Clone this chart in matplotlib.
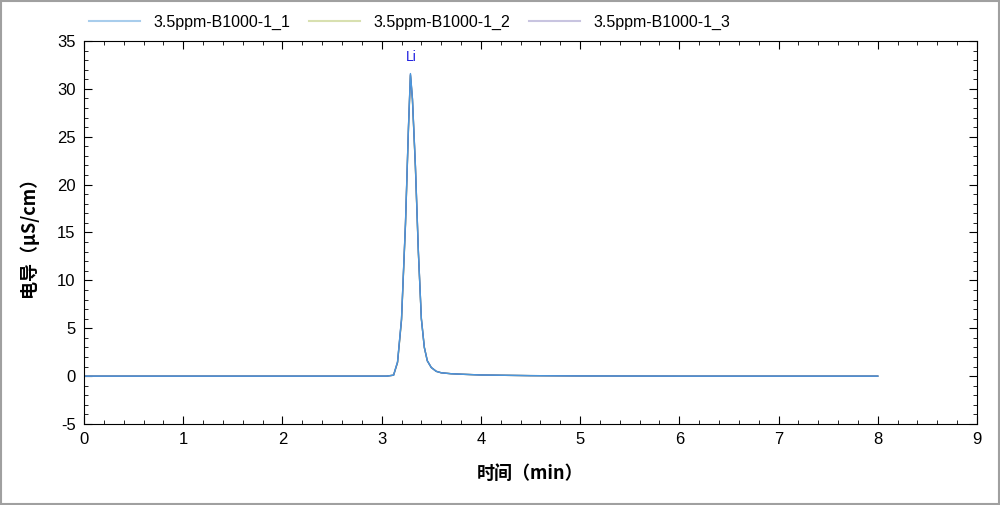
import matplotlib
matplotlib.use("Agg")
import matplotlib.pyplot as plt
from matplotlib.lines import Line2D
from matplotlib.patches import Rectangle

plt.rcParams['font.family'] = ['Liberation Sans', 'Noto Sans CJK SC', 'DejaVu Sans']
plt.rcParams['axes.unicode_minus'] = False

series_names = ["3.5ppm-B1000-1_1", "3.5ppm-B1000-1_2", "3.5ppm-B1000-1_3"]
time_min = [0, 2, 3.05, 3.12, 3.16, 3.2, 3.24, 3.27, 3.29, 3.31, 3.34, 3.37, 3.40,
            3.43, 3.46, 3.5, 3.55, 3.6, 3.7, 3.8, 4.0, 4.5, 5, 6, 8]
signal_1 = [0, 0, 0, 0.1, 1.5, 6, 16, 26, 31.6, 29, 22, 13, 6,
            3, 1.6, 0.9, 0.5, 0.35, 0.25, 0.2, 0.12, 0.05, 0.02, 0, 0]
signal_2 = [0, 0, 0, 0.1, 1.4, 5.8, 15.8, 25.8, 31.4, 28.9, 21.8, 12.9, 6,
            3, 1.6, 0.9, 0.5, 0.35, 0.25, 0.2, 0.12, 0.05, 0.02, 0, 0]
signal_3 = [0, 0, 0, 0.1, 1.45, 5.9, 15.9, 25.9, 31.5, 28.95, 21.9, 12.95, 6,
            3, 1.6, 0.9, 0.5, 0.35, 0.25, 0.2, 0.12, 0.05, 0.02, 0, 0]
peak_label = "Li"
peak_time = 3.3
peak_height = 31.6

line_colors = ['#4a96dc', '#a8b840', '#6858a8']
legend_colors = ['#a8cdec', '#d8e0b0', '#c8c4e0']

fig = plt.figure(figsize=(10, 5.05), dpi=100)
fig.patches.append(Rectangle((0.001, 0.001), 0.998, 0.997, transform=fig.transFigure,
                             fill=False, edgecolor='#a0a0a0', linewidth=1.5))

ax = fig.add_axes([0.084, 1 - 424/505, 0.893, (424-41)/505])
for s, c in zip([signal_2, signal_3, signal_1], [line_colors[1], line_colors[2], line_colors[0]]):
    ax.plot(time_min, s, color=c, lw=1)
ax.text(peak_time, peak_height + 1.0, peak_label, color='#2020e0', fontsize=10, ha='center', va='bottom')

ax.set_xlim(0, 9)
ax.set_ylim(-5, 35)
ax.set_xticks(range(0, 10))
ax.set_yticks(range(-5, 36, 5))
ax.set_xticks([i * 0.2 for i in range(46)], minor=True)
ax.set_yticks([i for i in range(-5, 36)], minor=True)
ax.tick_params(which='both', direction='in', top=True, right=True, labelsize=12, pad=6)
ax.tick_params(which='major', length=6)
ax.tick_params(which='minor', length=3)
ax.set_xlabel("时间（min）", fontsize=13, fontweight='bold', family=['Noto Sans CJK SC'], labelpad=12)
ax.set_ylabel("电导（μS/cm）", fontsize=13, fontweight='bold', family=['Noto Sans CJK SC', 'DejaVu Sans'], labelpad=14)

handles = [Line2D([0], [0], color=c, lw=1.5) for c in legend_colors]
fig.legend(handles, series_names, loc='upper left', bbox_to_anchor=(0.075, 1.0), ncol=3,
           frameon=False, fontsize=11.5, handlelength=3.2, columnspacing=1.2)

fig.savefig("out.png", dpi=100)
